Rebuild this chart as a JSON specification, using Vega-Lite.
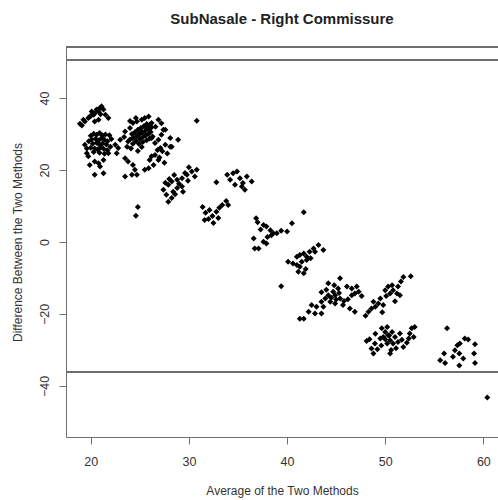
{
  "$schema": "https://vega.github.io/schema/vega-lite/v6.json",
  "autosize": {"type": "none"},
  "padding": {"left": 66, "top": 47, "right": 0, "bottom": 63},
  "width": 432,
  "height": 390,
  "background": "white",
  "title": {"text": "SubNasale - Right Commissure", "font": "Liberation Sans", "fontSize": 15, "fontWeight": "bold", "color": "#222222", "anchor": "middle", "offset": 19},
  "config": {
    "view": {"stroke": null},
    "axis": {"grid": false, "domainColor": "#6e6e6e", "tickColor": "#6e6e6e", "tickSize": 7, "labelFont": "Liberation Sans", "labelFontSize": 12.5, "labelColor": "#333333", "titleFont": "Liberation Sans", "titleFontSize": 12, "titleFontWeight": "normal", "titleColor": "#333333"}
  },
  "data": {"values": [
    {"avg":19.25,"diff":34.0},{"avg":19.4,"diff":33.5},{"avg":19.75,"diff":34.5},{"avg":19.9,"diff":34.9},{"avg":20.1,"diff":36.3},{"avg":20.3,"diff":35.4},{"avg":20.4,"diff":35.8},{"avg":20.6,"diff":36.8},{"avg":20.8,"diff":36.3},{"avg":20.9,"diff":37.2},{"avg":21.1,"diff":37.7},{"avg":21.3,"diff":36.8},{"avg":21.5,"diff":35.4},{"avg":21.8,"diff":34.5},{"avg":20.8,"diff":34.0},{"avg":20.4,"diff":33.5},{"avg":18.9,"diff":32.9},{"avg":19.1,"diff":32.4},{"avg":21.0,"diff":35.5},{"avg":20.0,"diff":35.0},
    {"avg":19.4,"diff":27.0},{"avg":19.6,"diff":24.7},{"avg":19.75,"diff":23.8},{"avg":19.9,"diff":21.4},{"avg":20.4,"diff":22.4},{"avg":20.8,"diff":21.9},{"avg":21.3,"diff":22.8},{"avg":21.8,"diff":24.7},{"avg":20.4,"diff":18.7},{"avg":21.3,"diff":19.1},{"avg":22.0,"diff":26.5},{"avg":20.95,"diff":21.0},
    {"avg":20.0,"diff":29.5},{"avg":20.3,"diff":30.1},{"avg":20.6,"diff":29.8},{"avg":20.9,"diff":30.3},{"avg":21.2,"diff":29.6},{"avg":21.5,"diff":29.9},{"avg":20.1,"diff":28.5},{"avg":20.5,"diff":28.7},{"avg":20.8,"diff":28.2},{"avg":21.1,"diff":28.9},{"avg":21.4,"diff":28.4},{"avg":21.7,"diff":28.0},{"avg":20.2,"diff":27.3},{"avg":20.6,"diff":27.6},{"avg":20.9,"diff":27.0},{"avg":21.2,"diff":27.4},{"avg":21.6,"diff":27.1},{"avg":20.0,"diff":26.2},{"avg":20.4,"diff":26.0},{"avg":20.7,"diff":25.7},{"avg":21.0,"diff":26.3},{"avg":21.3,"diff":25.9},{"avg":21.7,"diff":25.5},{"avg":20.3,"diff":25.0},{"avg":20.9,"diff":24.8},{"avg":21.4,"diff":24.5},{"avg":19.8,"diff":28.0},{"avg":19.6,"diff":26.0},{"avg":22.1,"diff":28.6},{"avg":21.9,"diff":29.7},
    {"avg":23.5,"diff":30.7},{"avg":24.0,"diff":31.7},{"avg":24.3,"diff":33.1},{"avg":24.7,"diff":33.5},{"avg":25.2,"diff":34.0},{"avg":25.5,"diff":34.5},{"avg":25.9,"diff":34.9},
    {"avg":23.8,"diff":27.9},{"avg":24.3,"diff":28.9},{"avg":24.85,"diff":29.8},{"avg":25.2,"diff":30.7},{"avg":25.7,"diff":31.7},{"avg":26.0,"diff":32.6},{"avg":26.2,"diff":33.1},
    {"avg":22.5,"diff":27.0},{"avg":23.0,"diff":28.4},{"avg":22.8,"diff":26.1},{"avg":23.7,"diff":26.5},{"avg":22.65,"diff":24.7},{"avg":23.5,"diff":23.3},
    {"avg":23.8,"diff":22.4},{"avg":24.3,"diff":21.4},{"avg":24.5,"diff":20.1},{"avg":24.2,"diff":18.7},{"avg":23.5,"diff":18.2},{"avg":24.7,"diff":18.7},{"avg":24.8,"diff":9.7},{"avg":24.6,"diff":7.3},
    {"avg":24.2,"diff":30.0},{"avg":24.5,"diff":30.5},{"avg":24.8,"diff":31.2},{"avg":25.1,"diff":31.7},{"avg":25.4,"diff":32.2},{"avg":25.7,"diff":32.8},{"avg":24.4,"diff":29.0},{"avg":24.7,"diff":29.4},{"avg":25.0,"diff":30.0},{"avg":25.3,"diff":30.4},{"avg":25.6,"diff":31.0},{"avg":25.9,"diff":31.5},{"avg":26.2,"diff":31.9},{"avg":24.6,"diff":28.1},{"avg":25.0,"diff":28.6},{"avg":25.3,"diff":29.1},{"avg":25.6,"diff":29.6},{"avg":25.9,"diff":30.1},{"avg":26.1,"diff":30.6},{"avg":24.9,"diff":27.3},{"avg":25.3,"diff":27.8},{"avg":25.7,"diff":28.3},{"avg":26.0,"diff":28.8},{"avg":26.3,"diff":29.3},{"avg":24.0,"diff":28.5},{"avg":24.3,"diff":27.3},{"avg":23.4,"diff":29.2},{"avg":24.1,"diff":26.0},{"avg":24.8,"diff":25.3},{"avg":25.2,"diff":26.4},{"avg":26.6,"diff":32.0},{"avg":26.9,"diff":34.0},{"avg":27.2,"diff":33.0},{"avg":24.6,"diff":34.5},{"avg":24.0,"diff":33.6},
    {"avg":26.2,"diff":28.9},{"avg":26.55,"diff":27.5},{"avg":26.9,"diff":28.4},{"avg":27.2,"diff":29.8},{"avg":27.6,"diff":31.2},{"avg":27.1,"diff":26.1},{"avg":27.6,"diff":27.0},{"avg":28.1,"diff":28.9},{"avg":28.25,"diff":26.5},{"avg":26.55,"diff":24.2},{"avg":26.0,"diff":22.8},{"avg":26.4,"diff":21.4},{"avg":25.9,"diff":20.5},{"avg":25.5,"diff":20.1},{"avg":26.9,"diff":22.8},{"avg":27.4,"diff":31.2},{"avg":28.9,"diff":28.4},{"avg":28.1,"diff":26.5},{"avg":27.3,"diff":25.2},{"avg":27.8,"diff":24.6},{"avg":26.8,"diff":25.6},{"avg":27.0,"diff":23.5},{"avg":27.5,"diff":22.0},{"avg":26.2,"diff":23.8},
    {"avg":30.8,"diff":33.7},
    {"avg":27.4,"diff":14.5},{"avg":27.9,"diff":15.9},{"avg":28.25,"diff":16.8},{"avg":28.8,"diff":17.3},{"avg":29.3,"diff":17.7},{"avg":29.8,"diff":18.7},{"avg":30.3,"diff":19.6},{"avg":30.8,"diff":20.1},{"avg":30.6,"diff":18.2},{"avg":27.7,"diff":13.1},{"avg":28.25,"diff":12.2},{"avg":28.4,"diff":14.0},{"avg":28.8,"diff":15.0},{"avg":29.3,"diff":15.4},{"avg":29.4,"diff":14.0},{"avg":27.9,"diff":11.2},{"avg":28.0,"diff":17.5},{"avg":28.6,"diff":13.3},{"avg":29.0,"diff":16.2},{"avg":29.9,"diff":17.0},{"avg":27.6,"diff":16.5},{"avg":30.0,"diff":20.8},{"avg":29.6,"diff":19.2},{"avg":28.5,"diff":18.6},
    {"avg":31.4,"diff":9.7},{"avg":31.7,"diff":8.1},{"avg":32.1,"diff":8.9},{"avg":32.4,"diff":7.2},{"avg":32.8,"diff":8.4},{"avg":33.1,"diff":9.5},{"avg":33.4,"diff":10.3},{"avg":33.8,"diff":11.4},{"avg":32.0,"diff":6.4},{"avg":32.5,"diff":5.3},{"avg":31.6,"diff":6.1},{"avg":34.0,"diff":10.3},{"avg":33.0,"diff":6.7},
    {"avg":32.8,"diff":16.6},{"avg":33.9,"diff":18.7},{"avg":34.2,"diff":17.3},{"avg":34.5,"diff":19.1},{"avg":34.9,"diff":19.6},{"avg":35.2,"diff":17.7},{"avg":35.5,"diff":16.4},{"avg":35.9,"diff":18.2},{"avg":36.4,"diff":16.8},{"avg":35.4,"diff":15.4},{"avg":35.7,"diff":14.5},{"avg":34.7,"diff":15.9},
    {"avg":36.85,"diff":6.6},{"avg":37.6,"diff":4.7},{"avg":37.9,"diff":4.3},{"avg":38.3,"diff":3.3},{"avg":38.6,"diff":2.4},{"avg":38.95,"diff":2.4},{"avg":40.0,"diff":2.9},{"avg":40.5,"diff":5.2},{"avg":41.7,"diff":8.3},{"avg":36.6,"diff":1.0},{"avg":36.7,"diff":-1.8},{"avg":37.1,"diff":-1.8},{"avg":37.6,"diff":0.1},{"avg":37.9,"diff":-0.4},{"avg":38.4,"diff":1.9},{"avg":37.3,"diff":3.5},{"avg":38.0,"diff":1.4},{"avg":39.4,"diff":3.1},{"avg":37.0,"diff":5.5},
    {"avg":40.1,"diff":-5.5},{"avg":41.0,"diff":-4.1},{"avg":41.3,"diff":-3.6},{"avg":41.7,"diff":-3.2},{"avg":42.0,"diff":-4.1},{"avg":42.3,"diff":-2.7},{"avg":42.7,"diff":-1.8},{"avg":43.2,"diff":-0.8},{"avg":43.7,"diff":-2.2},{"avg":41.0,"diff":-6.4},{"avg":41.15,"diff":-8.3},{"avg":41.7,"diff":-8.7},{"avg":41.5,"diff":-5.5},{"avg":42.0,"diff":-5.0},{"avg":42.85,"diff":-2.7},{"avg":41.3,"diff":-6.9},{"avg":42.4,"diff":-4.5},{"avg":40.6,"diff":-6.0},{"avg":41.9,"diff":-7.5},
    {"avg":39.4,"diff":-12.3},
    {"avg":44.2,"diff":-11.5},{"avg":45.4,"diff":-10.1},{"avg":45.2,"diff":-12.9},{"avg":46.1,"diff":-12.4},{"avg":46.6,"diff":-12.9},{"avg":47.1,"diff":-12.4},{"avg":47.3,"diff":-13.8},{"avg":47.6,"diff":-15.0},{"avg":44.9,"diff":-14.8},{"avg":44.2,"diff":-14.8},{"avg":43.9,"diff":-15.7},{"avg":44.4,"diff":-16.6},{"avg":44.9,"diff":-17.1},{"avg":45.4,"diff":-15.7},{"avg":43.5,"diff":-16.6},{"avg":43.7,"diff":-18.0},{"avg":43.0,"diff":-18.0},{"avg":42.5,"diff":-17.5},{"avg":42.2,"diff":-19.4},{"avg":42.85,"diff":-19.9},{"avg":43.5,"diff":-19.9},{"avg":41.3,"diff":-21.3},{"avg":41.7,"diff":-21.3},{"avg":45.7,"diff":-17.5},{"avg":46.4,"diff":-18.5},{"avg":46.9,"diff":-19.4},{"avg":46.6,"diff":-14.8},{"avg":46.9,"diff":-14.3},{"avg":44.7,"diff":-13.8},{"avg":44.5,"diff":-15.5},{"avg":45.0,"diff":-16.0},{"avg":45.3,"diff":-14.2},{"avg":44.0,"diff":-13.3},{"avg":45.8,"diff":-16.4},{"avg":46.2,"diff":-15.9},{"avg":43.5,"diff":-14.0},{"avg":44.8,"diff":-12.0},
    {"avg":48.3,"diff":-19.4},{"avg":48.6,"diff":-18.5},{"avg":48.8,"diff":-16.6},{"avg":49.3,"diff":-17.1},{"avg":49.5,"diff":-15.7},{"avg":49.8,"diff":-17.5},{"avg":50.0,"diff":-13.4},{"avg":50.3,"diff":-12.4},{"avg":50.7,"diff":-12.0},{"avg":50.8,"diff":-13.4},{"avg":51.2,"diff":-14.3},{"avg":51.3,"diff":-12.4},{"avg":51.5,"diff":-14.8},{"avg":50.5,"diff":-14.3},{"avg":51.85,"diff":-9.7},{"avg":52.6,"diff":-9.5},{"avg":49.0,"diff":-18.0},{"avg":50.1,"diff":-15.0},{"avg":51.0,"diff":-16.5},{"avg":49.7,"diff":-19.5},{"avg":48.0,"diff":-20.5},{"avg":51.6,"diff":-11.0},
    {"avg":48.1,"diff":-27.5},{"avg":48.6,"diff":-29.6},{"avg":48.8,"diff":-31.0},{"avg":48.95,"diff":-28.2},{"avg":49.5,"diff":-26.8},{"avg":49.65,"diff":-24.0},{"avg":50.0,"diff":-25.0},{"avg":50.2,"diff":-23.6},{"avg":50.3,"diff":-25.9},{"avg":50.5,"diff":-27.3},{"avg":50.7,"diff":-25.0},{"avg":50.8,"diff":-28.2},{"avg":50.5,"diff":-31.0},{"avg":51.0,"diff":-26.4},{"avg":51.3,"diff":-27.8},{"avg":51.5,"diff":-25.4},{"avg":51.85,"diff":-29.2},{"avg":52.4,"diff":-26.8},{"avg":52.5,"diff":-25.4},{"avg":52.7,"diff":-24.0},{"avg":53.0,"diff":-23.6},{"avg":52.9,"diff":-26.4},{"avg":50.2,"diff":-28.2},{"avg":49.8,"diff":-26.4},{"avg":50.0,"diff":-27.0},{"avg":50.4,"diff":-26.0},{"avg":49.6,"diff":-28.8},{"avg":51.1,"diff":-29.5},{"avg":50.6,"diff":-30.0},{"avg":49.2,"diff":-29.8},{"avg":51.7,"diff":-27.2},{"avg":52.2,"diff":-28.0},{"avg":49.0,"diff":-25.5},{"avg":48.4,"diff":-27.0},
    {"avg":56.3,"diff":-24.0},{"avg":55.6,"diff":-32.9},{"avg":56.1,"diff":-33.6},{"avg":56.0,"diff":-31.0},{"avg":56.9,"diff":-31.9},{"avg":57.1,"diff":-30.1},{"avg":57.35,"diff":-28.7},{"avg":57.6,"diff":-28.2},{"avg":57.55,"diff":-31.0},{"avg":57.95,"diff":-32.4},{"avg":57.55,"diff":-34.3},{"avg":58.1,"diff":-26.8},{"avg":58.45,"diff":-27.1},{"avg":59.15,"diff":-28.4},{"avg":59.05,"diff":-31.0},{"avg":59.15,"diff":-33.6},
    {"avg":60.4,"diff":-43.2}
  ]},
  "layer": [
    {
      "mark": {"type": "point", "shape": "diamond", "filled": true, "size": 36, "color": "black", "opacity": 1},
      "encoding": {
        "x": {"field": "avg", "type": "quantitative", "scale": {"domain": [17.48, 61.49], "nice": false, "zero": false},
              "axis": {"values": [20, 30, 40, 50, 60], "title": "Average of the Two Methods", "labelPadding": 11, "titlePadding": 18}},
        "y": {"field": "diff", "type": "quantitative", "scale": {"domain": [-54.2, 54.2], "nice": false, "zero": false},
              "axis": {"values": [-40, -20, 0, 20, 40], "title": "Difference Between the Two Methods", "labelAngle": 270, "labelAlign": "center", "labelBaseline": "bottom", "labelPadding": 8, "titlePadding": 14}}
      }
    },
    {"mark": {"type": "rule", "color": "#6e6e6e", "strokeWidth": 1.2}, "encoding": {"y": {"datum": 50.5}}},
    {"mark": {"type": "rule", "color": "#6e6e6e", "strokeWidth": 1.2}, "encoding": {"y": {"datum": -36.2}}},
    {"mark": {"type": "rule", "color": "#6e6e6e", "strokeWidth": 1.2}, "encoding": {"y": {"datum": 54.2}}}
  ]
}
